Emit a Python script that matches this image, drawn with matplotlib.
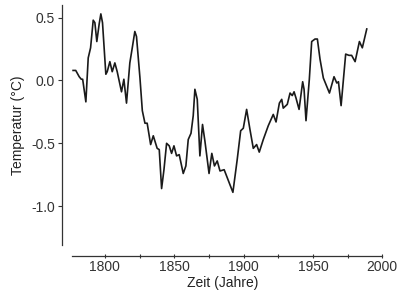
import numpy as np
import matplotlib.pyplot as plt

plt.rcParams['font.family'] = ['Liberation Sans', 'DejaVu Sans']
plt.rcParams['axes.unicode_minus'] = False

# Temperaturverlauf
jahre = [1777.1, 1779.0, 1781.5, 1783.0, 1784.0, 1786.3, 1788.0, 1789.7, 1791.6, 1792.8,
         1794.2, 1795.9, 1797.1, 1798.3, 1800.7, 1801.7, 1803.6, 1805.3, 1807.2, 1808.9,
         1812.0, 1813.7, 1815.6, 1818.0, 1819.9, 1821.6, 1822.8, 1825.3, 1827.0, 1828.9,
         1830.5, 1833.0, 1834.9, 1837.7, 1839.2, 1840.9, 1842.6, 1844.5, 1846.4, 1848.1,
         1849.8, 1851.7, 1853.6, 1856.5, 1858.4, 1860.1, 1862.1, 1863.7, 1864.9, 1866.6,
         1868.5, 1870.4, 1872.1, 1875.1, 1877.1, 1879.0, 1881.0, 1883.0, 1886.0, 1892.3,
         1895.4, 1897.9, 1899.8, 1902.2, 1904.6, 1907.0, 1909.4, 1911.3, 1914.2, 1917.8,
         1921.4, 1923.4, 1925.8, 1927.5, 1928.6, 1931.5, 1933.5, 1935.1, 1936.4, 1937.8,
         1940.0, 1942.6, 1943.6, 1945.0, 1947.4, 1949.1, 1951.5, 1953.2, 1955.1, 1957.5,
         1961.9, 1965.2, 1967.2, 1968.4, 1970.3, 1973.6, 1976.0, 1977.9, 1980.4, 1983.5,
         1985.6, 1988.8]
temperatur = [0.08, 0.08, 0.03, 0.01, 0.01, -0.17, 0.18, 0.26, 0.48, 0.46,
              0.31, 0.45, 0.53, 0.46, 0.05, 0.07, 0.15, 0.07, 0.14, 0.07,
              -0.09, 0.01, -0.18, 0.14, 0.27, 0.39, 0.35, 0.02, -0.24, -0.34,
              -0.34, -0.51, -0.44, -0.54, -0.55, -0.86, -0.71, -0.50, -0.52, -0.58,
              -0.52, -0.60, -0.59, -0.74, -0.68, -0.47, -0.42, -0.28, -0.07, -0.15,
              -0.60, -0.35, -0.48, -0.74, -0.58, -0.68, -0.64, -0.72, -0.71, -0.89,
              -0.63, -0.40, -0.38, -0.23, -0.39, -0.54, -0.51, -0.57, -0.47, -0.36,
              -0.27, -0.33, -0.18, -0.15, -0.22, -0.19, -0.10, -0.12, -0.09, -0.14,
              -0.23, -0.01, -0.07, -0.32, 0.01, 0.31, 0.33, 0.33, 0.17, 0.02,
              -0.10, 0.03, -0.02, -0.01, -0.20, 0.21, 0.20, 0.20, 0.15, 0.31,
              0.26, 0.41]

x_ticks = [1800, 1850, 1900, 1950, 2000]
y_ticks = [-1.0, -0.5, 0.0, 0.5]

fig = plt.figure(figsize=(4.07, 3.00), dpi=100)
ax = fig.add_axes([0.152, 0.183, 0.789, 0.800])
ax.plot(jahre, temperatur, color='#1a1a1a', lw=1.2)

ax.set_xlim(1769, 2000.5)
ax.set_ylim(-1.31, 0.60)
ax.spines['top'].set_visible(False)
ax.spines['right'].set_visible(False)
ax.spines['bottom'].set_position(('outward', 8))
ax.spines['bottom'].set_bounds(1776, 2000)
for s in ['left', 'bottom']:
    ax.spines[s].set_color('#333333')
    ax.spines[s].set_linewidth(0.9)

ax.set_xticks(x_ticks)
ax.set_xticks([1825, 1875, 1925, 1975], minor=True)
ax.set_yticks(y_ticks)
ax.set_yticklabels(['%.1f' % v for v in y_ticks])
ax.tick_params(axis='x', direction='inout', length=3, width=0.8, color='#333333',
               labelsize=10, labelcolor='#333333', pad=1)
ax.tick_params(axis='x', which='minor', direction='inout', length=3, width=0.8, color='#333333')
ax.tick_params(axis='y', direction='out', length=3, width=0.8, color='#333333',
               labelsize=10, labelcolor='#333333', pad=2)

ax.set_xlabel('Zeit (Jahre)', fontsize=10, color='#222222', labelpad=2)
ax.set_ylabel('Temperatur (°C)', fontsize=10, color='#222222', labelpad=4)

fig.savefig('out.png', dpi=100)
